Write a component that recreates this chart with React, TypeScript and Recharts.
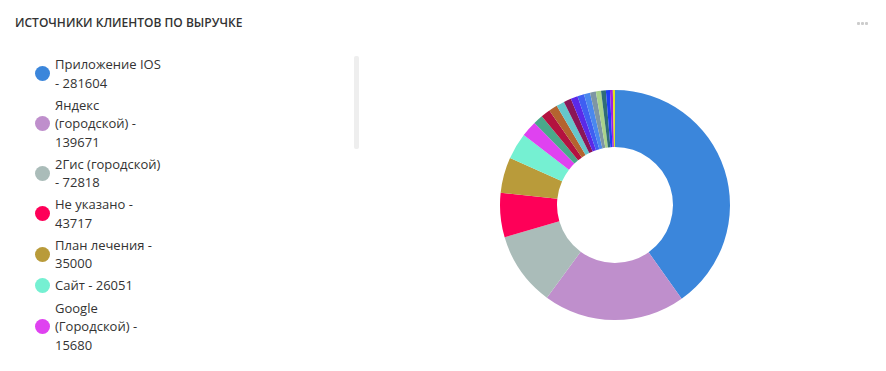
import { PieChart, Pie, Cell } from 'recharts';

const sourceNames = [
    'Приложение IOS',
    'Яндекс (городской)',
    '2Гис (городской)',
    'Не указано',
    'План лечения',
    'Сайт',
    'Google (Городской)',
    'Instagram',
    'ВКонтакте',
    'Рекомендация',
    'Приложение Android',
    'Повторный визит',
    'Вывеска',
    'Telegram',
    'Сотрудник',
    'Акция',
    'Листовка',
    'Радио',
    'Звонок',
    'WhatsApp',
    'Другое',
];

const sourceValues = [
    281604, 139671, 72818, 43717, 35000, 26051, 15680, 9600, 9200, 8500, 8000, 7300, 6900,
    6600, 6100, 5700, 5100, 4700, 4000, 2800, 2100,
];

const sourceColors = [
    '#3b86db',
    '#bf8fcc',
    '#aabcb9',
    '#fe0058',
    '#b99b3a',
    '#75f0d2',
    '#df42f0',
    '#49a88a',
    '#b3123f',
    '#b4632f',
    '#66c6cb',
    '#8a1656',
    '#5b29e8',
    '#3f5ff2',
    '#4a88ee',
    '#7e96a4',
    '#a9d28b',
    '#2f6c78',
    '#1d3df5',
    '#a020e0',
    '#e1e41d',
];

// the legend box scrolls; only the first items are visible in the card
const visibleLegendItems = 7;

const chartData = sourceNames.map((name, i) => ({
    name,
    value: sourceValues[i],
    color: sourceColors[i],
}));

const font = '"Open Sans", "Noto Sans", sans-serif';

function LegendList() {
    return (
        <div
            style={{
                position: 'absolute',
                left: 20,
                top: 54,
                width: 340,
                height: 310,
                overflow: 'hidden',
            }}
        >
            {chartData.slice(0, visibleLegendItems).map((d) => (
                <div
                    key={d.name}
                    style={{ display: 'flex', alignItems: 'center', marginBottom: 3.6 }}
                >
                    <span
                        style={{
                            width: 15,
                            height: 15,
                            borderRadius: '50%',
                            background: d.color,
                            marginLeft: 14,
                            marginRight: 5,
                            flexShrink: 0,
                        }}
                    />
                    <span
                        style={{
                            width: 110,
                            fontSize: 13,
                            lineHeight: '18.5px',
                            color: '#333',
                        }}
                    >
                        {d.name} - {d.value}
                    </span>
                </div>
            ))}
            <div
                style={{
                    position: 'absolute',
                    left: 333,
                    top: 1,
                    width: 5,
                    height: 93,
                    background: '#eeeeee',
                    borderRadius: 2,
                }}
            />
        </div>
    );
}

export default function App() {
    return (
        <div style={{ margin: -8, width: 886, height: 371, background: '#f3f3f3', fontFamily: font }}>
            <div
                style={{
                    position: 'relative',
                    width: 880,
                    height: 366,
                    background: '#fff',
                    border: '1px solid #ebebeb',
                    borderRadius: 6,
                }}
            >
                <div
                    style={{
                        position: 'absolute',
                        left: 14,
                        top: 13,
                        fontSize: 12,
                        fontWeight: 600,
                        color: '#333',
                    }}
                >
                    ИСТОЧНИКИ КЛИЕНТОВ ПО ВЫРУЧКЕ
                </div>
                <div style={{ position: 'absolute', left: 856, top: 21, display: 'flex', gap: 1 }}>
                    {[0, 1, 2].map((i) => (
                        <span
                            key={i}
                            style={{ width: 3, height: 3, borderRadius: 1, background: '#cccccc' }}
                        />
                    ))}
                </div>
                <LegendList />
                <div style={{ position: 'absolute', left: 0, top: 0 }}>
                    <PieChart
                        width={880}
                        height={366}
                        margin={{ top: 0, right: 0, bottom: 0, left: 0 }}
                    >
                        <Pie
                            data={chartData}
                            dataKey="value"
                            nameKey="name"
                            cx={614}
                            cy={204}
                            innerRadius={58}
                            outerRadius={115}
                            startAngle={90}
                            endAngle={-270}
                            stroke="none"
                            isAnimationActive={false}
                        >
                            {chartData.map((d) => (
                                <Cell key={d.name} fill={d.color} />
                            ))}
                        </Pie>
                    </PieChart>
                </div>
            </div>
        </div>
    );
}
